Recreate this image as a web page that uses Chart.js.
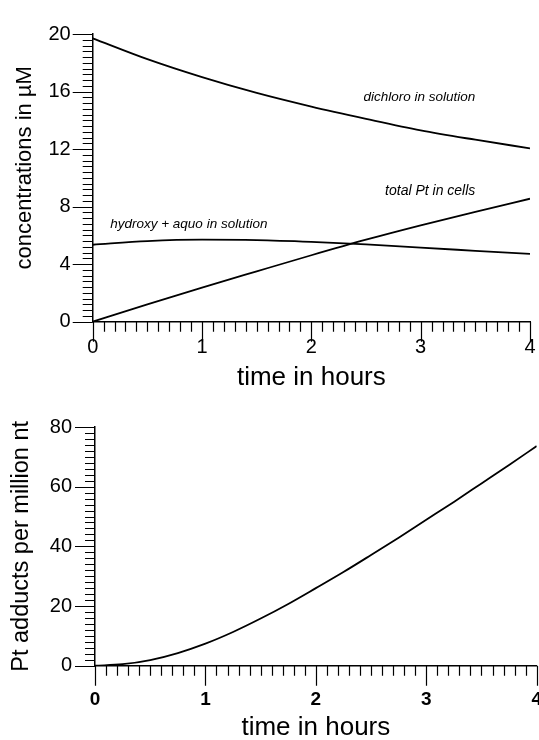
<!DOCTYPE html>
<html>
<head>
<meta charset="utf-8">
<script src="https://cdn.jsdelivr.net/npm/chart.js@4.4.1/dist/chart.umd.min.js"></script>
<style>
  html, body { margin: 0; padding: 0; background: #fff; }
  .box { position: absolute; left: 0; width: 539px; }
  #topBox { top: 0; height: 392px; }
  #bottomBox { top: 392px; height: 348px; }
</style>
</head>
<body>
<div class="box" id="topBox"><canvas id="concChart"></canvas></div>
<div class="box" id="bottomBox"><canvas id="adductChart"></canvas></div>
<script>
// top panel: concentrations (uM) vs time (h)
const hours = [0, 0.5, 1, 1.5, 2, 2.5, 3, 3.5, 4];
const dichloro = [19.7, 18.25, 17.0, 15.9, 14.95, 14.1, 13.3, 12.65, 12.05];
const hydroxyAquo = [5.35, 5.6, 5.7, 5.67, 5.55, 5.38, 5.15, 4.93, 4.71];
const totalPtCells = [0, 1.2, 2.37, 3.5, 4.62, 5.7, 6.7, 7.63, 8.55];
const curveNames = ["dichloro in solution", "hydroxy + aquo in solution", "total Pt in cells"];

// bottom panel: adducts per million nt
const adductHours = [0, 0.25, 0.5, 0.75, 1, 1.25, 1.5, 1.75, 2, 2.25, 2.5, 2.75, 3, 3.25, 3.5, 3.75, 4];
const adducts = [0, 0.5, 1.9, 4.25, 7.4, 11.3, 15.8, 20.7, 26.0, 31.4, 37.1, 42.9, 48.9, 54.9, 61.1, 67.3, 73.6];

const hourTicks = [0, 1, 2, 3, 4];
const concTicks = [0, 4, 8, 12, 16, 20];
const adductTicks = [0, 20, 40, 60, 80];

const FONT = "'Liberation Sans', Arial, sans-serif";
Chart.defaults.font.family = FONT;
Chart.defaults.color = "#000";

const toPoints = (xs, ys) => xs.map((x, i) => ({ x: x, y: ys[i] }));

// minor + major tick marks drawn through the scales
const tickMarks = {
  id: "tickMarks",
  afterDraw(chart, args, opts) {
    const ctx = chart.ctx;
    const xs = chart.scales.x, ys = chart.scales.y;
    ctx.save();
    ctx.strokeStyle = "#000";
    ctx.lineWidth = 1.2;
    ctx.beginPath();
    const nx = Math.round((xs.max - xs.min) / opts.xStep);
    for (let i = 0; i <= nx; i++) {
      const px = Math.round(xs.getPixelForValue(xs.min + i * opts.xStep)) + 0.5;
      const len = i % opts.xEvery === 0 ? 20 : 10;
      ctx.moveTo(px, ys.bottom);
      ctx.lineTo(px, ys.bottom + len);
    }
    const ny = Math.round((ys.max - ys.min) / opts.yStep);
    for (let i = 0; i <= ny; i++) {
      const py = Math.round(ys.getPixelForValue(ys.min + i * opts.yStep)) + 0.5;
      const len = i % opts.yEvery === 0 ? 20 : 10;
      ctx.moveTo(xs.left, py);
      ctx.lineTo(xs.left - len, py);
    }
    ctx.stroke();
    ctx.restore();
  }
};

// italic curve labels anchored in data units
const curveLabels = {
  id: "curveLabels",
  afterDatasetsDraw(chart, args, opts) {
    if (!opts.items) return;
    const ctx = chart.ctx;
    ctx.save();
    ctx.fillStyle = "#000";
    ctx.textBaseline = "middle";
    opts.items.forEach((it) => {
      ctx.font = "italic " + it.size + "px " + FONT;
      ctx.textAlign = it.align;
      ctx.fillText(it.text, chart.scales.x.getPixelForValue(it.x), chart.scales.y.getPixelForValue(it.y));
    });
    ctx.restore();
  }
};

// rotated y-axis title (the top one sits a little above centre)
const sideTitle = {
  id: "sideTitle",
  afterDraw(chart, args, opts) {
    const ys = chart.scales.y, ctx = chart.ctx;
    ctx.save();
    ctx.translate(opts.x, (ys.top + ys.bottom) / 2 + opts.shift);
    ctx.rotate(-Math.PI / 2);
    ctx.fillStyle = "#000";
    ctx.font = opts.size + "px " + FONT;
    ctx.textAlign = "center";
    ctx.textBaseline = "middle";
    ctx.fillText(opts.text, 0, 0);
    ctx.restore();
  }
};

function lineSet(data) {
  return {
    data: data,
    borderColor: "#000",
    borderWidth: 1.8,
    pointRadius: 0,
    fill: false,
    cubicInterpolationMode: "monotone"
  };
}

function makeChart(id, cfg) {
  return new Chart(document.getElementById(id), {
    type: "line",
    data: { datasets: cfg.datasets },
    options: {
      responsive: true,
      maintainAspectRatio: false,
      animation: false,
      events: [],
      layout: { padding: cfg.padding },
      plugins: {
        legend: { display: false },
        tooltip: { enabled: false },
        tickMarks: cfg.marks,
        curveLabels: { items: cfg.labels },
        sideTitle: cfg.yTitle
      },
      scales: {
        x: {
          type: "linear",
          min: 0,
          max: 4,
          afterBuildTicks: (s) => { s.ticks = hourTicks.map((v) => ({ value: v })); },
          afterFit: (s) => { s.height = cfg.xHeight; s.paddingLeft = 0; s.paddingRight = 0; },
          ticks: { padding: cfg.xTickPad, maxRotation: 0, autoSkip: false, font: cfg.xTickFont },
          grid: { display: false, drawTicks: false },
          border: { color: "#000", width: 1.5 },
          title: { display: true, text: "time in hours", font: { size: 26 }, padding: { top: 0, bottom: cfg.xTitlePad } }
        },
        y: {
          type: "linear",
          min: cfg.yTicks[0],
          max: cfg.yTicks[cfg.yTicks.length - 1],
          afterBuildTicks: (s) => { s.ticks = cfg.yTicks.map((v) => ({ value: v })); },
          afterFit: (s) => { s.width = cfg.yWidth; },
          ticks: { padding: cfg.yTickPad, font: { size: 20 } },
          grid: { display: false, drawTicks: false },
          border: { color: "#000", width: 1.5 }
        }
      }
    },
    plugins: [tickMarks, curveLabels, sideTitle]
  });
}

makeChart("concChart", {
  datasets: [
    lineSet(toPoints(hours, dichloro)),
    lineSet(toPoints(hours, hydroxyAquo)),
    lineSet(toPoints(hours, totalPtCells))
  ],
  labels: [
    { text: curveNames[0], x: 3.5, y: 15.6, align: "right", size: 13.5 },
    { text: curveNames[1], x: 0.16, y: 6.8, align: "left", size: 13.5 },
    { text: curveNames[2], x: 3.5, y: 9.07, align: "right", size: 14 }
  ],
  padding: { top: 20, right: 9, left: 0, bottom: 0 },
  marks: { xStep: 0.1, xEvery: 10, yStep: 0.4, yEvery: 10 },
  yTicks: concTicks,
  yWidth: 92.7,
  yTickPad: 22,
  yTitle: { text: "concentrations in \u00b5M", size: 22, x: 25, shift: -10 },
  xHeight: 70.3,
  xTickPad: 13.5,
  xTickFont: { size: 20 },
  xTitlePad: -1
});

makeChart("adductChart", {
  datasets: [lineSet(toPoints(adductHours, adducts))],
  labels: [],
  padding: { top: 13, right: 2.3, left: 0, bottom: 0 },
  marks: { xStep: 0.1, xEvery: 10, yStep: 2, yEvery: 10 },
  yTicks: adductTicks,
  yWidth: 95,
  yTickPad: 23,
  yTitle: { text: "Pt adducts per million nt", size: 23.5, x: 22, shift: 0 },
  xHeight: 74.3,
  xTickPad: 22.5,
  xTickFont: { size: 19, weight: "bold" },
  xTitlePad: -3
});
</script>
</body>
</html>
